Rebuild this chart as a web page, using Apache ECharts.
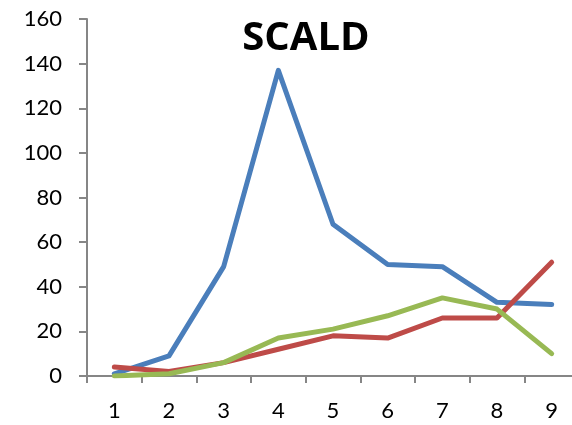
<!DOCTYPE html>
<html><head><meta charset="utf-8">
<script src="https://cdn.jsdelivr.net/npm/echarts@6/dist/echarts.min.js"></script>
<style>html,body{margin:0;padding:0;background:#fff}#c{width:572px;height:425px}</style>
</head><body><div id="c"></div>
<script>
const categories = ['1','2','3','4','5','6','7','8','9'];
const blueValues = [1, 9, 49, 137, 68, 50, 49, 33, 32];
const redValues = [4, 2, 6, 12, 18, 17, 26, 26, 51];
const greenValues = [0, 1, 6, 17, 21, 27, 35, 30, 10];
const titleText = 'SCALD';

const chart = echarts.init(document.getElementById('c'), null, {renderer:'canvas'});
const font = 'Lato, "Open Sans", sans-serif';
function mk(name, data, color){
  return {name, type:'line', data, symbol:'none', smooth:false,
    lineStyle:{color, width:5, cap:'round', join:'round'}, itemStyle:{color}};
}
chart.setOption({
  animation:false,
  backgroundColor:'#fff',
  title:{text:titleText, left:301, top:14, textAlign:'center',
    textStyle:{fontFamily:'"Open Sans", sans-serif', fontWeight:'bold', fontSize:40, color:'#000'}},
  grid:{left:87, width:492, top:19, bottom:49, containLabel:false, outerBoundsMode:'none'},
  xAxis:{type:'category', data:categories, boundaryGap:true,
    axisLine:{lineStyle:{color:'#868686', width:2}},
    axisTick:{show:true, length:7, lineStyle:{color:'#868686', width:2}},
    axisLabel:{fontFamily:font, fontSize:22, color:'#000', margin:24},
    splitLine:{show:false}},
  yAxis:{type:'value', min:0, max:160, interval:20,
    axisLine:{show:true, lineStyle:{color:'#868686', width:2}},
    axisTick:{show:true, length:8, lineStyle:{color:'#868686', width:2}},
    axisLabel:{fontFamily:font, fontSize:22, color:'#000', margin:25},
    splitLine:{show:false}},
  series:[mk('Blue', blueValues, '#4a7ebb'), mk('Red', redValues, '#be4b48'), mk('Green', greenValues, '#98b954')]
});
</script></body></html>
